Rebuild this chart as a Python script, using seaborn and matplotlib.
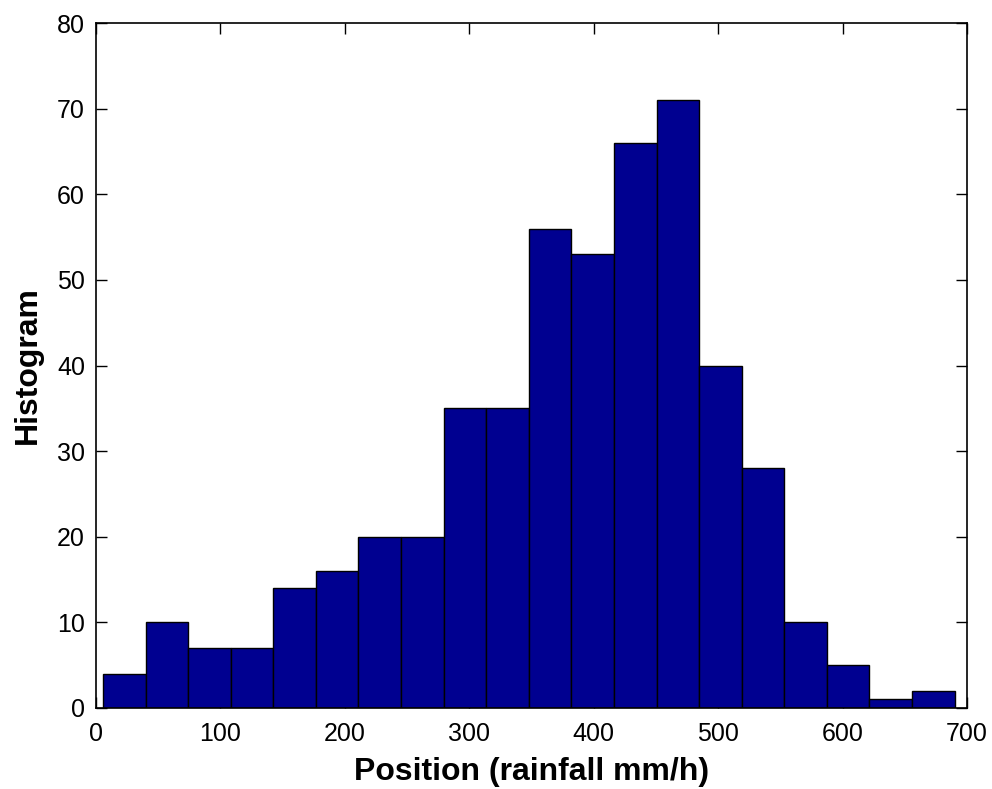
import numpy as np
import pandas as pd
import seaborn as sns
import matplotlib.pyplot as plt

# Histogram counts (20 bins)
counts = [4, 10, 7, 7, 14, 16, 20, 20, 35, 35, 56, 53, 66, 71, 40, 28, 10, 5, 1, 2]
x_min, x_max = 5.6, 690.0  # data range covered by the bins
x_ticks = [0, 100, 200, 300, 400, 500, 600, 700]
y_ticks = [0, 10, 20, 30, 40, 50, 60, 70, 80]

edges = np.linspace(x_min, x_max, len(counts) + 1)
centers = (edges[:-1] + edges[1:]) / 2
df = pd.DataFrame({"rainfall": centers, "count": counts})

sns.set_style("white")
plt.rcParams["font.family"] = ["Liberation Sans", "DejaVu Sans"]
plt.rcParams["text.color"] = "black"
plt.rcParams["axes.labelcolor"] = "black"
plt.rcParams["xtick.color"] = "black"
plt.rcParams["ytick.color"] = "black"

fig = plt.figure(figsize=(9.92, 7.89), dpi=100)
ax = fig.add_axes([0.0968, 0.1027, 0.8780, 0.8681])

sns.histplot(
    data=df,
    x="rainfall",
    weights="count",
    bins=len(counts),
    binrange=(x_min, x_max),
    color="#000090",
    edgecolor="black",
    linewidth=1.0,
    alpha=1.0,
    ax=ax,
)

ax.set_xlim(0, 700)
ax.set_ylim(0, 80)
ax.set_xticks(x_ticks)
ax.set_yticks(y_ticks)
ax.tick_params(direction="in", length=8, width=1, labelsize=18,
               top=True, right=True, bottom=True, left=True)
ax.tick_params(axis="x", pad=10)
ax.tick_params(axis="y", pad=8)
for s in ax.spines.values():
    s.set_visible(True)
    s.set_color("black")
    s.set_linewidth(1.2)

ax.set_xlabel("Position (rainfall mm/h)", fontsize=23, fontweight="bold", labelpad=8)
ax.set_ylabel("Histogram", fontsize=23, fontweight="bold", labelpad=10)

plt.savefig("out.png", dpi=100)
